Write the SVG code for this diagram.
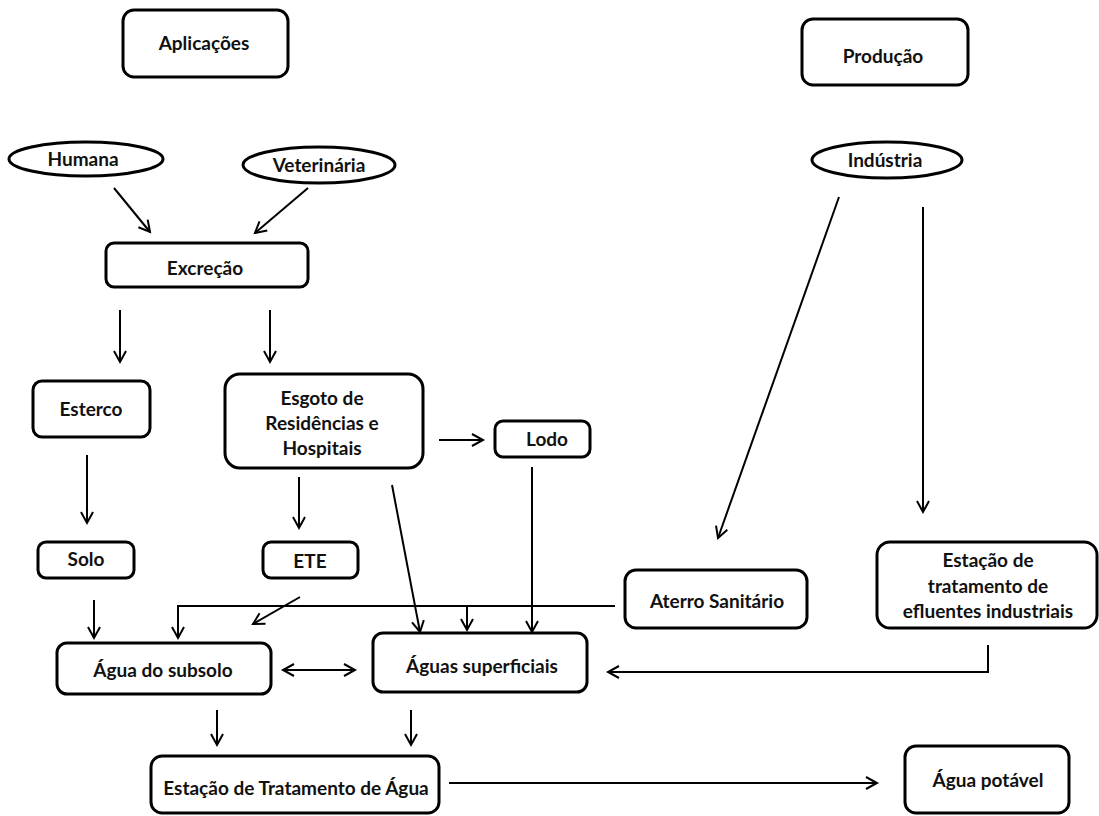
<svg xmlns="http://www.w3.org/2000/svg" width="1099" height="816" viewBox="0 0 1099 816">
  <style>
    .box { fill: #fff; stroke: #000; stroke-width: 3; }
    .oval { fill: #fff; stroke: #000; stroke-width: 3; }
    .lbl { font-family: Lato, "Liberation Sans", sans-serif; font-weight: bold; font-size: 19px; fill: #111; text-anchor: middle; }
    .con line, .con polyline { fill: none; stroke: #000; stroke-width: 2; }
    .arr { marker-end: url(#head); }
  </style>
  <defs>
    <marker id="head" markerUnits="userSpaceOnUse" markerWidth="16" markerHeight="16" refX="12" refY="7" orient="auto-start-reverse">
      <path d="M1,1 L12,7 L1,13" fill="none" stroke="#000" stroke-width="2"/>
    </marker>
  </defs>
  <rect width="1099" height="816" fill="#fff"/>

  <!-- connectors -->
  <g id="connectors" class="con">
    <line class="arr" x1="114" y1="188" x2="150" y2="232"/>
    <line class="arr" x1="308" y1="188" x2="255" y2="233"/>
    <line class="arr" x1="120" y1="310" x2="120" y2="362"/>
    <line class="arr" x1="270" y1="310" x2="270" y2="362"/>
    <line class="arr" x1="87" y1="455" x2="87" y2="523"/>
    <line class="arr" x1="299" y1="477" x2="299" y2="528"/>
    <line class="arr" x1="439" y1="440" x2="483" y2="440"/>
    <line class="arr" x1="392" y1="485" x2="420" y2="632"/>
    <line class="arr" x1="532" y1="467" x2="532" y2="632"/>
    <line class="arr" x1="839" y1="197" x2="718" y2="538"/>
    <line class="arr" x1="923" y1="207" x2="923" y2="512"/>
    <line class="arr" x1="94" y1="600" x2="94" y2="638"/>
    <polyline class="arr" points="615,606 178,606 178,638"/>
    <line class="arr" x1="467" y1="606" x2="467" y2="630"/>
    <line class="arr" x1="300" y1="597" x2="253" y2="624"/>
    <line x1="283" y1="670" x2="355" y2="670" marker-start="url(#head)" marker-end="url(#head)"/>
    <polyline class="arr" points="988,645 988,672 608,672"/>
    <line class="arr" x1="217" y1="710" x2="217" y2="745"/>
    <line class="arr" x1="411" y1="710" x2="411" y2="745"/>
    <line class="arr" x1="449" y1="783" x2="877" y2="783"/>
  </g>

  <!-- nodes -->
  <g id="aplicacoes">
    <rect class="box" x="123" y="10" width="165" height="67" rx="11"/>
    <text class="lbl" x="204" y="50">Aplicações</text>
  </g>
  <g id="producao">
    <rect class="box" x="802" y="19" width="166" height="66" rx="11"/>
    <text class="lbl" x="883" y="63">Produção</text>
  </g>
  <g id="humana">
    <ellipse class="oval" cx="86" cy="159" rx="77" ry="17"/>
    <text class="lbl" x="83" y="166">Humana</text>
  </g>
  <g id="veterinaria">
    <ellipse class="oval" cx="319" cy="165" rx="76" ry="18"/>
    <text class="lbl" x="319" y="172">Veterinária</text>
  </g>
  <g id="industria">
    <ellipse class="oval" cx="887" cy="160" rx="75" ry="18"/>
    <text class="lbl" x="885" y="167">Indústria</text>
  </g>
  <g id="excrecao">
    <rect class="box" x="106" y="243" width="202" height="44" rx="8"/>
    <text class="lbl" x="205" y="275">Excreção</text>
  </g>
  <g id="esterco">
    <rect class="box" x="33" y="381" width="117" height="56" rx="9"/>
    <text class="lbl" x="91" y="416">Esterco</text>
  </g>
  <g id="esgoto">
    <rect class="box" x="225" y="374" width="198" height="94" rx="15"/>
    <text class="lbl" x="322" y="405">Esgoto de</text>
    <text class="lbl" x="322" y="430">Residências e</text>
    <text class="lbl" x="322" y="455">Hospitais</text>
  </g>
  <g id="lodo">
    <rect class="box" x="495" y="421" width="95" height="36" rx="8"/>
    <text class="lbl" x="547" y="446">Lodo</text>
  </g>
  <g id="solo">
    <rect class="box" x="38" y="542" width="96" height="36" rx="8"/>
    <text class="lbl" x="86" y="566">Solo</text>
  </g>
  <g id="ete">
    <rect class="box" x="263" y="542" width="95" height="36" rx="8"/>
    <text class="lbl" x="310" y="568">ETE</text>
  </g>
  <g id="aterro">
    <rect class="box" x="625" y="570" width="182" height="58" rx="11"/>
    <text class="lbl" x="717" y="608">Aterro Sanitário</text>
  </g>
  <g id="efluentes">
    <rect class="box" x="877" y="542" width="220" height="86" rx="13"/>
    <text class="lbl" x="988" y="567">Estação de</text>
    <text class="lbl" x="988" y="593">tratamento de</text>
    <text class="lbl" x="988" y="618">efluentes industriais</text>
  </g>
  <g id="agua-subsolo">
    <rect class="box" x="57" y="643" width="214" height="51" rx="10"/>
    <text class="lbl" x="163" y="677">Água do subsolo</text>
  </g>
  <g id="aguas-superficiais">
    <rect class="box" x="373" y="633" width="214" height="59" rx="10"/>
    <text class="lbl" x="482" y="673">Águas superficiais</text>
  </g>
  <g id="eta">
    <rect class="box" x="151" y="756" width="288" height="57" rx="11"/>
    <text class="lbl" x="296" y="795">Estação de Tratamento de Água</text>
  </g>
  <g id="agua-potavel">
    <rect class="box" x="905" y="746" width="164" height="67" rx="11"/>
    <text class="lbl" x="988" y="787">Água potável</text>
  </g>
</svg>
